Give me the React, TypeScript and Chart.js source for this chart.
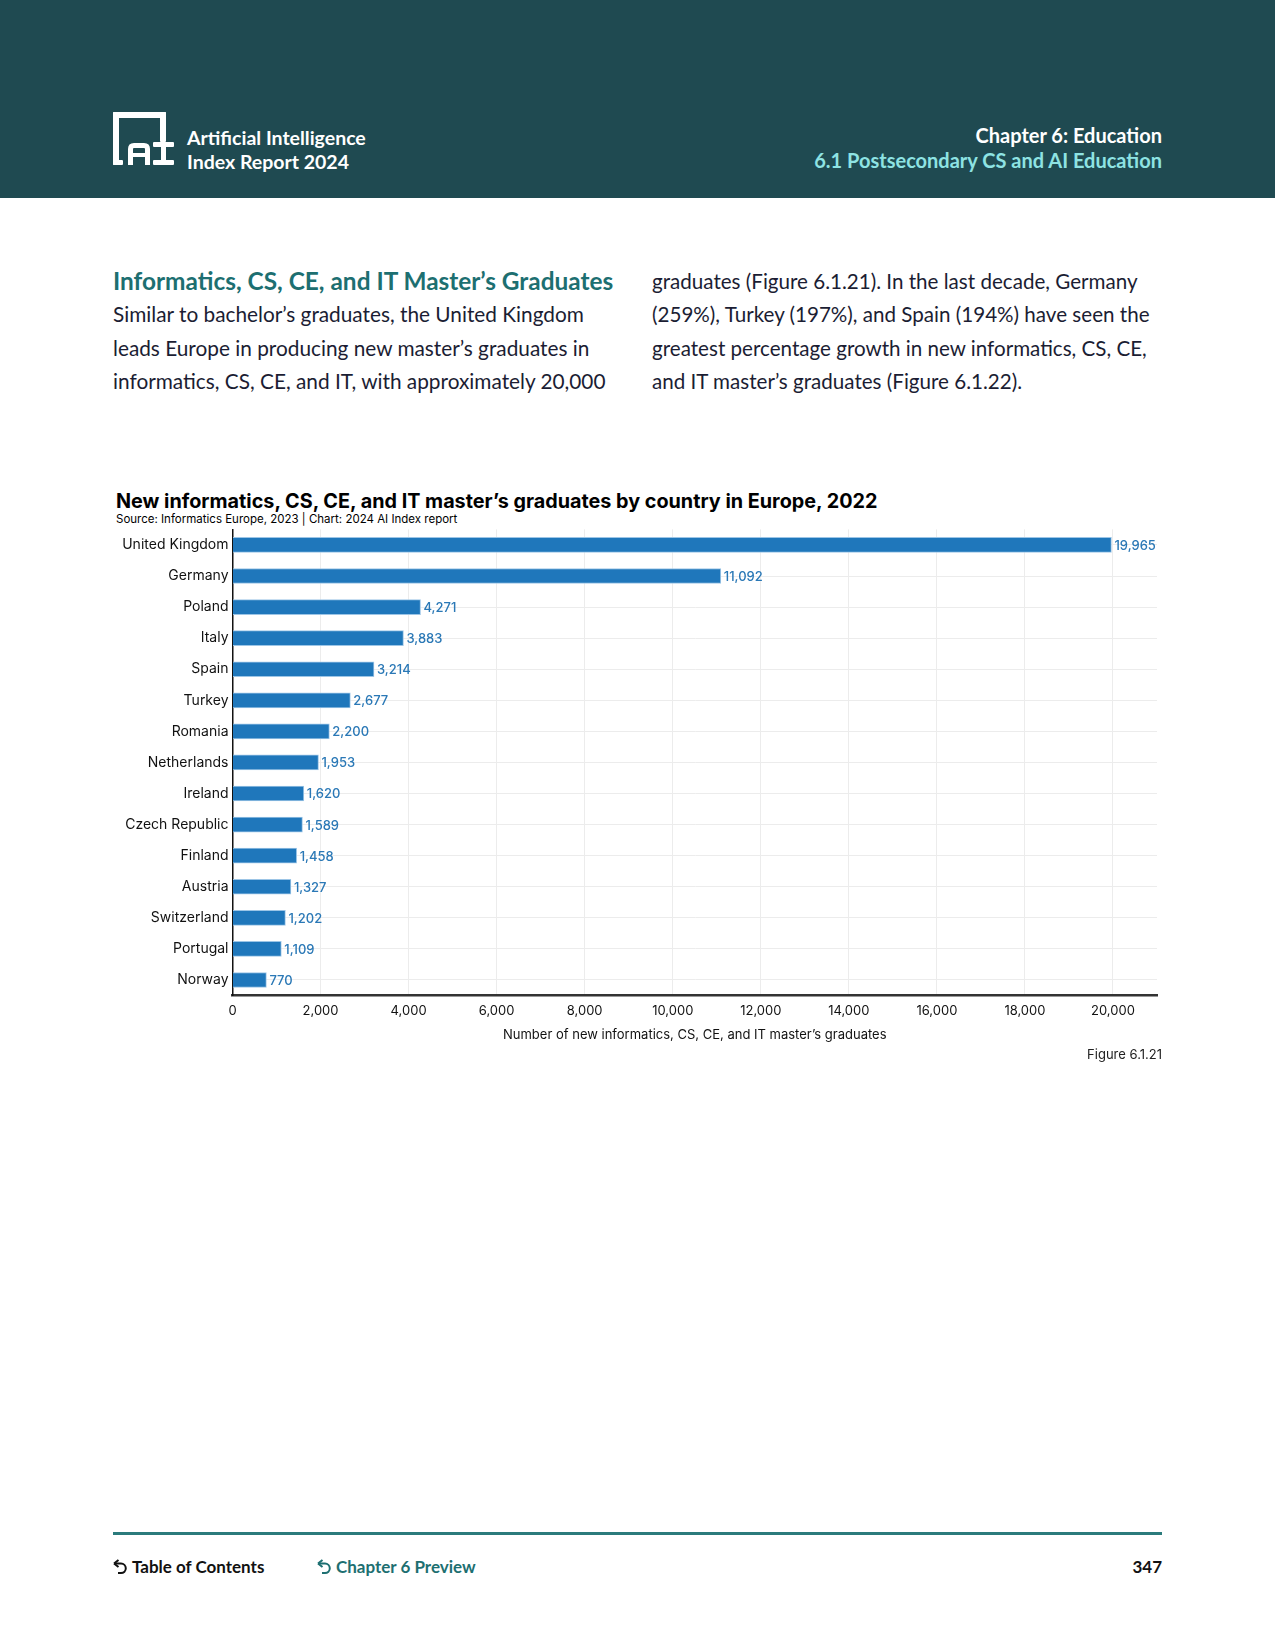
import React, { useEffect, useRef } from "react";
import { Chart, registerables } from "chart.js";

Chart.register(...registerables);

const countries = [
  "United Kingdom", "Germany", "Poland", "Italy", "Spain", "Turkey", "Romania",
  "Netherlands", "Ireland", "Czech Republic", "Finland", "Austria", "Switzerland",
  "Portugal", "Norway",
];
const graduates = [19965, 11092, 4271, 3883, 3214, 2677, 2200, 1953, 1620, 1589, 1458, 1327, 1202, 1109, 770];
const xTicks = [0, 2000, 4000, 6000, 8000, 10000, 12000, 14000, 16000, 18000, 20000];
const xMax = 21000;

const chartTitle = "New informatics, CS, CE, and IT master\u2019s graduates by country in Europe, 2022";
const chartSource = "Source: Informatics Europe, 2023 | Chart: 2024 AI Index report";
const xAxisTitle = "Number of new informatics, CS, CE, and IT master\u2019s graduates";
const sectionHeading = "Informatics, CS, CE, and IT Master\u2019s Graduates";

const leftLines = [
  "Similar to bachelor\u2019s graduates, the United Kingdom",
  "leads Europe in producing new master\u2019s graduates in",
  "informatics, CS, CE, and IT, with approximately 20,000",
];
const rightLines = [
  "graduates (Figure 6.1.21). In the last decade, Germany",
  "(259%), Turkey (197%), and Spain (194%) have seen the",
  "greatest percentage growth in new informatics, CS, CE,",
  "and IT master\u2019s graduates (Figure 6.1.22).",
];

const FONT = "Inter, 'Liberation Sans', sans-serif";
const BODY = "Lato, 'Noto Sans', sans-serif";

const valueLabels = {
  id: "valueLabels",
  afterDatasetsDraw(chart: any) {
    const ctx = chart.ctx;
    const meta = chart.getDatasetMeta(0);
    ctx.save();
    ctx.font = "500 13px " + FONT;
    ctx.fillStyle = "#2a78b6";
    ctx.textBaseline = "middle";
    ctx.textAlign = "left";
    meta.data.forEach((bar: any, i: number) => {
      const v = chart.data.datasets[0].data[i] as number;
      ctx.fillText(v.toLocaleString("en-US"), bar.x + 3, bar.y + 1);
    });
    ctx.restore();
  },
};

function BarChart() {
  const ref = useRef<HTMLCanvasElement>(null);
  useEffect(() => {
    if (!ref.current) return;
    const chart = new Chart(ref.current, {
      type: "bar",
      data: {
        labels: countries,
        datasets: [
          {
            data: graduates,
            backgroundColor: "#1f77bb",
            borderColor: "#9cc5e6",
            borderWidth: 1,
            barThickness: 15,
          },
        ],
      },
      options: {
        indexAxis: "y",
        animation: false,
        responsive: false,
        maintainAspectRatio: false,
        layout: { padding: { top: 0, right: 13, left: 0, bottom: 0 } },
        plugins: { legend: { display: false }, tooltip: { enabled: false }, title: { display: false } },
        scales: {
          x: {
            type: "linear",
            min: 0,
            max: xMax,
            afterFit: (s: any) => { s.height = 51.5; },
            afterBuildTicks: (s: any) => {
              s.ticks = xTicks.map((v) => ({ value: v }));
            },
            ticks: {
              color: "#111",
              font: { family: FONT, size: 13 },
              padding: 8,
              maxRotation: 0,
              autoSkip: false,
              callback: (v: any) => Number(v).toLocaleString("en-US"),
            },
            grid: { color: "#ececec", drawTicks: false, lineWidth: 1 },
            border: { display: true, color: "#333", width: 2.5 },
            title: {
              display: true,
              text: xAxisTitle,
              color: "#111",
              font: { family: FONT, size: 13 },
              padding: { top: 0, bottom: 4 },
            },
          },
          y: {
            type: "category",
            afterFit: (s: any) => { s.width = 132.5; },
            ticks: { color: "#111", font: { family: FONT, size: 14 }, padding: 4, autoSkip: false },
            grid: { color: "#ececec", drawTicks: false, offset: false, lineWidth: 1 },
            border: { display: true, color: "#111", width: 1.5 },
          },
        },
      },
      plugins: [valueLabels],
    });
    return () => chart.destroy();
  }, []);
  return (
    <canvas
      ref={ref}
      width={1070}
      height={530}
      style={{ position: "absolute", left: 100, top: 517, width: 1070, height: 530 }}
    />
  );
}

function Logo() {
  return (
    <svg width={70} height={60} style={{ position: "absolute", left: 110, top: 109 }} viewBox="0 0 70 60">
      <g fill="#ffffff">
        <rect x={3} y={3} width={53} height={6} rx={1} />
        <rect x={3} y={3} width={6} height={53} rx={1} />
        <rect x={50} y={3} width={6} height={30} rx={1} />
        <rect x={3} y={51} width={10} height={5} rx={1} />
        <path d="M18 56 V40 Q18 34 24 34 H34 Q40 34 40 40 V56 H35 V48 H23 V56 Z M23 44 H35 V40 Q35 39 34 39 H24 Q23 39 23 40 Z" fillRule="evenodd" />
        <rect x={43} y={33} width={21} height={5} rx={1} />
        <rect x={43} y={51} width={21} height={5} rx={1} />
        <rect x={51} y={33} width={5} height={23} />
      </g>
    </svg>
  );
}

function BackArrow({ color }: { color: string }) {
  return (
    <svg width={14} height={16} viewBox="0 0 14 16" style={{ display: "inline-block", verticalAlign: "-2px", marginRight: 5 }}>
      <path d="M2 4.5 H8 A4.8 4.8 0 0 1 8 14.1 H5" fill="none" stroke={color} strokeWidth={2} />
      <path d="M1 4.5 L5.5 1 M1 4.5 L5.5 8" fill="none" stroke={color} strokeWidth={2} />
    </svg>
  );
}

const abs = (s: React.CSSProperties): React.CSSProperties => ({ position: "absolute", whiteSpace: "nowrap", ...s });

export default function App() {
  return (
    <div style={{ position: "absolute", left: 0, top: 0, width: 1275, height: 1650, background: "#fff", overflow: "hidden" }}>
      <div style={abs({ left: 0, top: 0, width: 1275, height: 198, background: "#1f4a51" })} />
      <Logo />
      <div style={abs({ left: 187, top: 126, fontFamily: BODY, fontWeight: 700, fontSize: 19.5, color: "#fff", lineHeight: "24px" })}>
        Artificial Intelligence
        <br />
        Index Report 2024
      </div>
      <div style={abs({ right: 1275 - 1162, top: 123, fontFamily: BODY, fontWeight: 700, fontSize: 20, color: "#fff", lineHeight: "25px", textAlign: "right" })}>
        Chapter 6: Education
        <br />
        <span style={{ color: "#8ee3e3" }}>6.1 Postsecondary CS and AI Education</span>
      </div>

      <div style={abs({ left: 113, top: 265, fontFamily: BODY, fontWeight: 700, fontSize: 24.4, color: "#1d6f71", lineHeight: "31px" })}>
        {sectionHeading}
      </div>
      {leftLines.map((l, i) => (
        <div key={"l" + i} style={abs({ left: 113, top: 300 + i * 33.6, fontFamily: BODY, fontSize: 20.8, color: "#1b1d33", lineHeight: "28px" })}>
          {l}
        </div>
      ))}
      {rightLines.map((l, i) => (
        <div key={"r" + i} style={abs({ left: 652, top: 266.5 + i * 33.6, fontFamily: BODY, fontSize: 20.6, color: "#1b1d33", lineHeight: "28px" })}>
          {l}
        </div>
      ))}

      <div style={abs({ left: 116, top: 489, fontFamily: FONT, fontWeight: 700, fontSize: 19.8, color: "#000", lineHeight: "25px" })}>
        {chartTitle}
      </div>
      <div style={abs({ left: 116, top: 512, fontFamily: FONT, fontSize: 11.5, color: "#000", lineHeight: "15px" })}>
        {chartSource}
      </div>

      <BarChart />

      <div style={abs({ right: 1275 - 1162, top: 1046, fontFamily: FONT, fontSize: 13, color: "#222", lineHeight: "16px" })}>
        Figure 6.1.21
      </div>

      <div style={abs({ left: 113, top: 1532, width: 1049, height: 3, background: "#2b7b7c" })} />
      <div style={abs({ left: 113, top: 1556, fontFamily: BODY, fontWeight: 700, fontSize: 17, color: "#111", lineHeight: "22px" })}>
        <BackArrow color="#111" />
        Table of Contents
      </div>
      <div style={abs({ left: 317, top: 1556, fontFamily: BODY, fontWeight: 700, fontSize: 17, color: "#1d6f71", lineHeight: "22px" })}>
        <BackArrow color="#1d6f71" />
        Chapter 6 Preview
      </div>
      <div style={abs({ right: 1275 - 1162, top: 1556, fontFamily: BODY, fontWeight: 700, fontSize: 17, color: "#111", lineHeight: "22px" })}>
        347
      </div>
    </div>
  );
}
